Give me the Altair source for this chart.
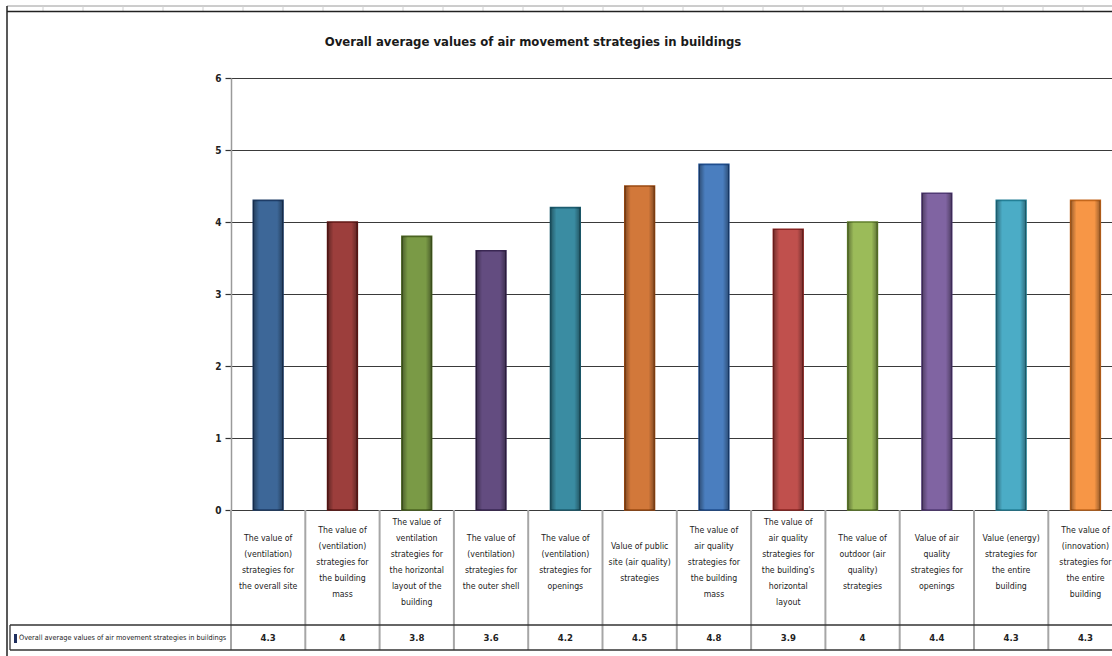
import altair as alt
import pandas as pd

title_text = "Overall average values of air movement strategies in buildings"
series_name = "Overall average values of air movement strategies in buildings"

categories = [
    "The value of\n(ventilation)\nstrategies for\nthe overall site",
    "The value of\n(ventilation)\nstrategies for\nthe building\nmass",
    "The value of\nventilation\nstrategies for\nthe horizontal\nlayout of the\nbuilding",
    "The value of\n(ventilation)\nstrategies for\nthe outer shell",
    "The value of\n(ventilation)\nstrategies for\nopenings",
    "Value of public\nsite (air quality)\nstrategies",
    "The value of\nair quality\nstrategies for\nthe building\nmass",
    "The value of\nair quality\nstrategies for\nthe building's\nhorizontal\nlayout",
    "The value of\noutdoor (air\nquality)\nstrategies",
    "Value of air\nquality\nstrategies for\nopenings",
    "Value (energy)\nstrategies for\nthe entire\nbuilding",
    "The value of\n(innovation)\nstrategies for\nthe entire\nbuilding",
]
values = [4.3, 4, 3.8, 3.6, 4.2, 4.5, 4.8, 3.9, 4, 4.4, 4.3, 4.3]
y_ticks = [0, 1, 2, 3, 4, 5, 6]

fills = ["#3D6798", "#9C3E3C", "#7A9A46", "#634C80", "#3A8CA2", "#D2783A",
         "#4A7EBF", "#C0504D", "#9BBB59", "#8064A2", "#4BACC6", "#F79646"]
edges = ["#1E3C66", "#611816", "#4B6421", "#3A2753", "#1C5D70", "#9A4A12",
         "#1F4E8F", "#8A2422", "#62802C", "#513A75", "#237F96", "#C4671C"]

FONT = "Liberation Sans Narrow, DejaVu Sans Condensed, Arial Narrow, sans-serif"
W, H = 881, 432
LEFT, TOP = 231, 78
BAND = 74.3
LINE_H = 16
LABEL_CENTER = 562

df = pd.DataFrame({"cat": categories, "value": values})
df["nlines"] = [c.count("\n") + 1 for c in categories]
one = pd.DataFrame({"k": [0]})

xscale = alt.Scale(domain=categories, range=[0, BAND * len(categories)],
                   paddingInner=0, paddingOuter=0)
xenc = alt.X("cat:N", sort=categories, scale=xscale, axis=None)
yenc = alt.Y("value:Q", scale=alt.Scale(domain=[0, 6], nice=False),
             axis=alt.Axis(values=y_ticks, title=None, grid=True, gridColor="#3a3a3a",
                           gridWidth=1.2, domainColor="#9a9a9a", domainWidth=1.5,
                           tickColor="#333333", tickSize=6, tickWidth=1.2,
                           labelFont=FONT, labelFontSize=10, labelFontWeight="bold",
                           labelColor="#222222", labelPadding=4))

base = alt.Chart(df)

bars = base.mark_bar(width={"band": 0.4}, strokeWidth=1.6).encode(
    x=xenc, y=yenc,
    fill=alt.Fill("cat:N", scale=alt.Scale(domain=categories, range=fills), legend=None),
    stroke=alt.Stroke("cat:N", scale=alt.Scale(domain=categories, range=edges), legend=None),
)

shade = base.mark_bar(
    width={"band": 0.4},
    fill={"gradient": "linear", "x1": 0, "y1": 0, "x2": 1, "y2": 0,
          "stops": [{"offset": 0, "color": "rgba(0,0,0,0.38)"},
                    {"offset": 0.2, "color": "rgba(0,0,0,0)"},
                    {"offset": 0.8, "color": "rgba(0,0,0,0)"},
                    {"offset": 1, "color": "rgba(0,0,0,0.38)"}]},
).encode(x=xenc, y=yenc)

# data table: column separators
col_lines = base.mark_rule(color="#a6a6a6", strokeWidth=2).encode(
    x=alt.X("cat:N", sort=categories, bandPosition=0, scale=xscale, axis=None),
    y=alt.value(H), y2=alt.value(650 - TOP),
)

# category labels, block-centred in the label row (one layer per line count)
label_layers = []
for n in sorted(set(df["nlines"])):
    y0 = LABEL_CENTER - (n - 1) / 2 * LINE_H - TOP
    label_layers.append(
        base.transform_filter(alt.datum.nlines == n).mark_text(
            font=FONT, fontSize=8.7, lineBreak="\n", lineHeight=LINE_H,
            baseline="middle", align="center", color="#222222").encode(
            x=xenc, y=alt.value(y0), text="cat:N"))

val_text = base.mark_text(font=FONT, fontSize=9.5, fontWeight="bold", baseline="middle",
                          align="center", color="#222222").encode(
    x=xenc, y=alt.value(638 - TOP), text=alt.Text("value:Q", format="~g"))

deco = alt.Chart(one)
h_mid = deco.mark_rule(color="#333333", strokeWidth=1.3).encode(
    x=alt.value(10 - LEFT), x2=alt.value(W), y=alt.value(625 - TOP))
h_bot = deco.mark_rule(color="#333333", strokeWidth=1.3).encode(
    x=alt.value(10 - LEFT), x2=alt.value(W), y=alt.value(650 - TOP))
v_leg = deco.mark_rule(color="#333333", strokeWidth=1.3).encode(
    x=alt.value(10 - LEFT), y=alt.value(625 - TOP), y2=alt.value(650 - TOP))
leg_key = deco.mark_rect(color="#1F2F5E").encode(
    x=alt.value(14 - LEFT), x2=alt.value(17 - LEFT),
    y=alt.value(634 - TOP), y2=alt.value(643 - TOP))
leg_text = deco.mark_text(font=FONT, fontSize=7.3, align="left", baseline="middle",
                          color="#222222").encode(
    x=alt.value(19 - LEFT), y=alt.value(638 - TOP), text=alt.value(series_name))

title = deco.mark_text(font=FONT, fontSize=13, fontWeight="bold", align="center",
                       baseline="middle", color="#1a1a1a").encode(
    x=alt.value(533 - LEFT), y=alt.value(42 - TOP), text=alt.value(title_text))

# outer frame of the chart
frame_left = deco.mark_rule(color="#222222", strokeWidth=1.5).encode(
    x=alt.value(7 - LEFT), y=alt.value(6 - TOP), y2=alt.value(656 - TOP))
frame_top = deco.mark_rule(color="#222222", strokeWidth=1.5).encode(
    x=alt.value(7 - LEFT), x2=alt.value(W), y=alt.value(11.5 - TOP))
sheet_top = deco.mark_rule(color="#9a9a9a", strokeWidth=1).encode(
    x=alt.value(7 - LEFT), x2=alt.value(W), y=alt.value(6 - TOP))
sheet_cells = pd.DataFrame({"px": [43, 83, 123, 163, 203, 243, 283, 323, 363, 403, 443, 483,
                                   523, 563, 603, 643, 683, 723, 763, 803, 843, 883, 923,
                                   963, 1003, 1043, 1083]})
cell_ticks = alt.Chart(sheet_cells).transform_calculate(rx="datum.px - 231").mark_rule(
    color="#d0d0d0", strokeWidth=1).encode(
    x=alt.X("rx:Q", scale=None), y=alt.value(6 - TOP), y2=alt.value(11 - TOP))

chart = alt.layer(
    sheet_top, cell_ticks, frame_top, frame_left,
    bars, shade, col_lines, *label_layers, val_text,
    h_mid, h_bot, v_leg, leg_key, leg_text, title,
).properties(
    width=W, height=H,
    autosize=alt.AutoSizeParams(type="none"),
    padding={"left": LEFT, "top": TOP, "right": 0, "bottom": 656 - TOP - H},
    background="white",
).configure_view(strokeWidth=0)

chart.save("out.html", embed_options={"renderer": "svg", "actions": False})
